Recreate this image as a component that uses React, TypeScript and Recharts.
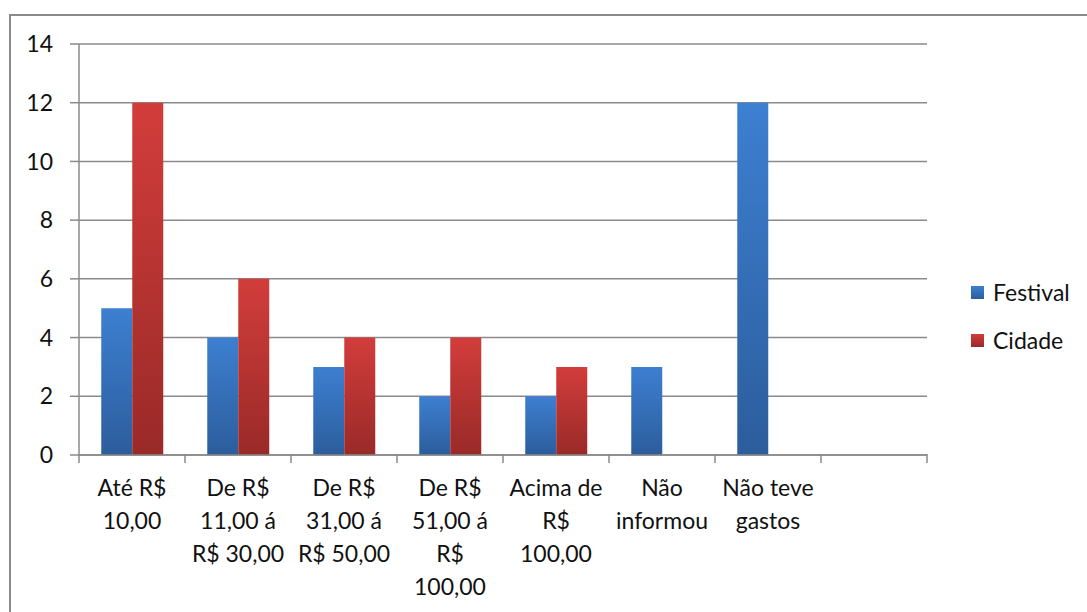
import { BarChart, Bar, XAxis, YAxis, CartesianGrid } from 'recharts';

const CATEGORIES = [
  'Até R$\n10,00',
  'De R$\n11,00 á\nR$ 30,00',
  'De R$\n31,00 á\nR$ 50,00',
  'De R$\n51,00 á\nR$\n100,00',
  'Acima de\nR$\n100,00',
  'Não\ninformou',
  'Não teve\ngastos',
  '',
];
const FESTIVAL = [5, 4, 3, 2, 2, 3, 12, null];
const CIDADE = [12, 6, 4, 4, 3, null, null, null];
const Y_TICKS = [0, 2, 4, 6, 8, 10, 12, 14];

const SERIES = [
  { key: 'festival', name: 'Festival', top: '#3d7fd1', bottom: '#2c5d9c' },
  { key: 'cidade', name: 'Cidade', top: '#d23d3b', bottom: '#992a28' },
];

const data = CATEGORIES.map((c, i) => ({ cat: c, festival: FESTIVAL[i], cidade: CIDADE[i] }));

const FONT = 'Lato, "Open Sans", sans-serif';
const AXIS = '#8a8a8a';
const FS = 23;

function CategoryTick(props: any) {
  const { x, y, payload, index } = props;
  const half = payload?.offset || 53;
  const lines = String(payload.value).split('\n');
  return (
    <g>
      <line x1={x - half} x2={x - half} y1={y - 9} y2={y} stroke={AXIS} strokeWidth={1.5} />
      {index === CATEGORIES.length - 1 && (
        <line x1={x + half} x2={x + half} y1={y - 9} y2={y} stroke={AXIS} strokeWidth={1.5} />
      )}
      <text x={x} y={y + 33} textAnchor="middle" fontSize={FS} fill="#111" fontFamily={FONT}>
        {lines.map((l, i) => (
          <tspan key={i} x={x} dy={i === 0 ? 0 : 33}>{l}</tspan>
        ))}
      </text>
    </g>
  );
}

export default function App() {
  return (
    <div
      style={{
        position: 'absolute',
        left: 9,
        top: 14,
        width: 1100,
        height: 620,
        borderTop: `2px solid ${AXIS}`,
        borderLeft: `2px solid ${AXIS}`,
        background: '#fff',
      }}
    >
      <BarChart
        width={1076}
        height={596}
        data={data}
        margin={{ top: 28, right: 160, bottom: 0, left: 0 }}
        barCategoryGap="21%"
        barGap={0}
      >
        <defs>
          {SERIES.map((s) => (
            <linearGradient key={s.key} id={`g-${s.key}`} x1="0" y1="0" x2="0" y2="1">
              <stop offset="0%" stopColor={s.top} />
              <stop offset="100%" stopColor={s.bottom} />
            </linearGradient>
          ))}
        </defs>
        <CartesianGrid vertical={false} stroke={AXIS} strokeWidth={1.5} />
        <XAxis
          dataKey="cat"
          interval={0}
          height={157}
          axisLine={{ stroke: AXIS, strokeWidth: 1.5 }}
          tickLine={false}
          tick={<CategoryTick />}
        />
        <YAxis
          domain={[0, 14]}
          ticks={Y_TICKS}
          width={68}
          tickSize={9}
          tickMargin={17}
          axisLine={{ stroke: AXIS, strokeWidth: 1.5 }}
          tickLine={{ stroke: AXIS, strokeWidth: 1.5 }}
          tick={{ fontSize: FS, fill: '#111', fontFamily: FONT }}
        />
        {SERIES.map((s) => (
          <Bar key={s.key} dataKey={s.key} name={s.name} fill={`url(#g-${s.key})`} isAnimationActive={false} />
        ))}
      </BarChart>
      <div style={{ position: 'absolute', left: 960, top: 252, fontFamily: FONT, fontSize: FS, color: '#111' }}>
        {SERIES.map((s) => (
          <div key={s.key} style={{ display: 'flex', alignItems: 'center', height: 48 }}>
            <span
              style={{
                display: 'inline-block',
                width: 13,
                height: 13,
                marginRight: 9,
                background: `linear-gradient(${s.top}, ${s.bottom})`,
              }}
            />
            {s.name}
          </div>
        ))}
      </div>
    </div>
  );
}
